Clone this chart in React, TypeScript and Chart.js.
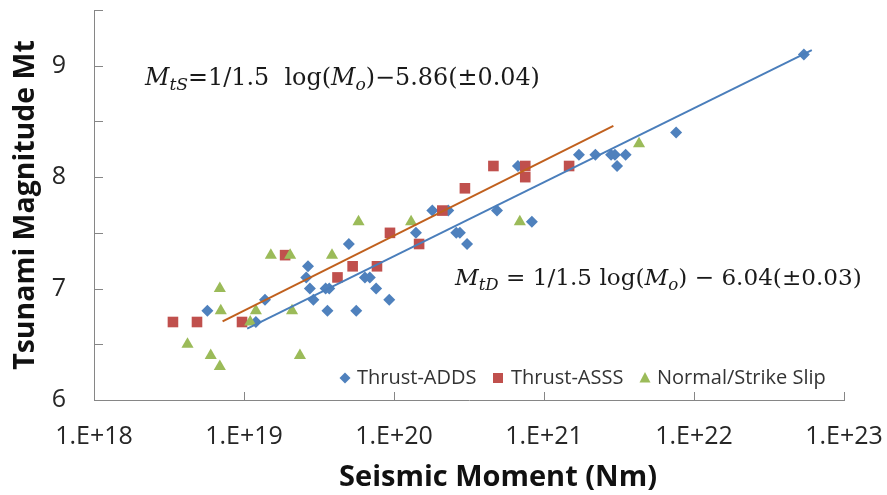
import React, { useEffect, useRef } from 'react';
import { Chart, registerables } from 'chart.js';

Chart.register(...registerables);

// ---- Data ----
const seriesNames = ['Thrust-ADDS', 'Thrust-ASSS', 'Normal/Strike Slip'];
const xTitle = 'Seismic Moment (Nm)';
const yTitle = 'Tsunami Magnitude Mt';

const addsMoment = [
  5.7e18, 1.38e19, 1.2e19, 5.0e19, 2.67e19, 2.6e19, 2.75e19, 2.9e19, 3.5e19, 3.7e19,
  3.6e19, 5.6e19, 6.4e19, 6.9e19, 7.6e19, 9.3e19, 1.8e20, 2.3e20, 1.4e20, 2.6e20,
  2.75e20, 3.07e20, 4.86e20, 6.7e20, 8.3e20, 1.71e21, 2.2e21, 2.8e21, 2.97e21, 3.07e21,
  3.5e21, 7.6e21, 5.4e22,
];
const addsMt = [
  6.8, 6.9, 6.7, 7.4, 7.2, 7.1, 7.0, 6.9, 7.0, 7.0,
  6.8, 6.8, 7.1, 7.1, 7.0, 6.9, 7.7, 7.7, 7.5, 7.5,
  7.5, 7.4, 7.7, 8.1, 7.6, 8.2, 8.2, 8.2, 8.2, 8.1,
  8.2, 8.4, 9.1,
];

const asssMoment = [
  3.36e18, 4.86e18, 9.7e18, 1.88e19, 4.2e19, 5.3e19, 7.7e19, 9.4e19, 1.47e20, 2.1e20,
  2.97e20, 4.6e20, 7.5e20, 7.5e20, 1.47e21,
];
const asssMt = [
  6.7, 6.7, 6.7, 7.3, 7.1, 7.2, 7.2, 7.5, 7.4, 7.7,
  7.9, 8.1, 8.1, 8.0, 8.1,
];

const normalMoment = [
  4.2e18, 6.0e18, 6.9e18, 6.9e18, 7.0e18, 1.1e19, 1.2e19, 1.51e19, 2.03e19, 2.09e19,
  2.36e19, 3.86e19, 5.8e19, 1.3e20, 6.9e20, 4.3e21,
];
const normalMt = [
  6.5, 6.4, 6.3, 7.0, 6.8, 6.7, 6.8, 7.3, 7.3, 6.8,
  6.4, 7.3, 7.6, 7.6, 7.6, 8.3,
];

// trend line end points
const trendSMoment = [7.2e18, 2.9e21];
const trendSMt = [6.705, 8.46];
const trendDMoment = [1.05e19, 6.1e22];
const trendDMt = [6.64, 9.14];

const xTickExponents = [18, 19, 20, 21, 22, 23];
const yTickValues = [6, 6.5, 7, 7.5, 8, 8.5, 9, 9.5];

const COLORS = {
  adds: '#4F81BD',
  asss: '#C0504D',
  normal: '#9BBB59',
  trendS: '#C0601E',
  trendD: '#4A7EBB',
  axis: '#868686',
  text: '#262626',
};

type Seg = { t: string; it?: boolean; sub?: boolean };
const eqS: Seg[] = [
  { t: 'M', it: true }, { t: 'tS', it: true, sub: true }, { t: '=1/1.5  log(' },
  { t: 'M', it: true }, { t: 'o', it: true, sub: true }, { t: ')\u22125.86(\u00B10.04)' },
];
const eqD: Seg[] = [
  { t: 'M', it: true }, { t: 'tD', it: true, sub: true }, { t: ' = 1/1.5 log(' },
  { t: 'M', it: true }, { t: 'o', it: true, sub: true }, { t: ') \u2212 6.04(\u00B10.03)' },
];

const SERIF = '"DejaVu Serif", "Liberation Serif", serif';

function richWidth(ctx: CanvasRenderingContext2D, segs: Seg[], size: number) {
  let w = 0;
  for (const s of segs) {
    const fs = s.sub ? size * 0.72 : size;
    ctx.font = `${s.it ? 'italic ' : ''}${fs}px ${SERIF}`;
    w += ctx.measureText(s.t).width;
  }
  return w;
}

function drawRich(ctx: CanvasRenderingContext2D, x: number, y: number, segs: Seg[], targetW: number) {
  const size = 20 * targetW / richWidth(ctx, segs, 20);
  let cx = x;
  ctx.textBaseline = 'alphabetic';
  ctx.textAlign = 'left';
  for (const s of segs) {
    const fs = s.sub ? size * 0.72 : size;
    ctx.font = `${s.it ? 'italic ' : ''}${fs}px ${SERIF}`;
    ctx.fillText(s.t, cx, y + (s.sub ? size * 0.22 : 0));
    cx += ctx.measureText(s.t).width;
  }
}

const decorPlugin = {
  id: 'decor',
  afterDraw(chart: any) {
    const { ctx, chartArea, scales } = chart;
    const xs = scales.x;
    const ys = scales.y;
    ctx.save();
    // inside tick marks
    ctx.strokeStyle = COLORS.axis;
    ctx.lineWidth = 1;
    ctx.beginPath();
    for (const v of yTickValues) {
      const py = Math.round(ys.getPixelForValue(v)) + 0.5;
      ctx.moveTo(chartArea.left, py);
      ctx.lineTo(chartArea.left + 9, py);
    }
    for (const e of xTickExponents) {
      const px = Math.round(xs.getPixelForValue(Math.pow(10, e))) + 0.5;
      ctx.moveTo(px, chartArea.bottom);
      ctx.lineTo(px, chartArea.bottom - 8);
    }
    ctx.stroke();

    // x axis title (offset to the right like the reference)
    ctx.fillStyle = '#111';
    ctx.font = 'bold 29px "Open Sans"';
    ctx.textAlign = 'center';
    ctx.textBaseline = 'middle';
    ctx.fillText(xTitle, 498, 478);

    // equations
    ctx.fillStyle = '#1a1a1a';
    drawRich(ctx, 145, 85, eqS, 395);
    drawRich(ctx, 455, 285, eqD, 407);

    // legend
    const ly = 378;
    ctx.font = '20px "Open Sans"';
    ctx.textBaseline = 'middle';
    ctx.textAlign = 'left';
    ctx.fillStyle = COLORS.adds;
    ctx.beginPath();
    ctx.moveTo(345, ly - 5.5); ctx.lineTo(350.5, ly); ctx.lineTo(345, ly + 5.5); ctx.lineTo(339.5, ly);
    ctx.closePath(); ctx.fill();
    ctx.fillStyle = COLORS.asss;
    ctx.fillRect(493, ly - 5, 10, 10);
    ctx.fillStyle = COLORS.normal;
    ctx.beginPath();
    ctx.moveTo(645, ly - 6); ctx.lineTo(650.5, ly + 4.5); ctx.lineTo(639.5, ly + 4.5);
    ctx.closePath(); ctx.fill();
    ctx.fillStyle = '#333';
    ctx.fillText(seriesNames[0], 357, ly);
    ctx.fillText(seriesNames[1], 511, ly);
    ctx.fillText(seriesNames[2], 657, ly);
    ctx.restore();
  },
};

function pts(xs: number[], ys: number[]) {
  return xs.map((x, i) => ({ x, y: ys[i] }));
}

export default function App() {
  const ref = useRef<HTMLCanvasElement>(null);
  useEffect(() => {
    const canvas = ref.current!;
    const chart = new Chart(canvas, {
      type: 'scatter',
      data: {
        datasets: [
          {
            type: 'line', label: 'trendS', data: pts(trendSMoment, trendSMt),
            borderColor: COLORS.trendS, borderWidth: 2, pointRadius: 0, fill: false, order: 0,
          } as any,
          {
            type: 'line', label: 'trendD', data: pts(trendDMoment, trendDMt),
            borderColor: COLORS.trendD, borderWidth: 2, pointRadius: 0, fill: false, order: 0,
          } as any,
          {
            label: seriesNames[2], data: pts(normalMoment, normalMt), pointStyle: 'triangle',
            pointRadius: 7, backgroundColor: COLORS.normal, borderColor: COLORS.normal, borderWidth: 0, order: 1,
          },
          {
            label: seriesNames[1], data: pts(asssMoment, asssMt), pointStyle: 'rect',
            pointRadius: 7.5, backgroundColor: COLORS.asss, borderColor: COLORS.asss, borderWidth: 0, order: 2,
          },
          {
            label: seriesNames[0], data: pts(addsMoment, addsMt), pointStyle: 'rectRot',
            pointRadius: 6, backgroundColor: COLORS.adds, borderColor: COLORS.adds, borderWidth: 0, order: 3,
          },
        ],
      },
      options: {
        responsive: false,
        maintainAspectRatio: false,
        animation: false,
        layout: { padding: { top: 10, right: 43, left: 0, bottom: 0 } },
        plugins: { legend: { display: false }, tooltip: { enabled: false } },
        font: { family: '"Open Sans"' },
        scales: {
          x: {
            type: 'logarithmic',
            min: 1e18,
            max: 1e23,
            afterBuildTicks: (s: any) => {
              s.ticks = xTickExponents.map((e) => ({ value: Math.pow(10, e) }));
            },
            ticks: {
              callback: (v: any) => '1.E+' + Math.round(Math.log10(Number(v))),
              font: { size: 25, family: '"Open Sans"' },
              color: COLORS.text,
              padding: 22,
              maxRotation: 0,
              autoSkip: false,
            },
            grid: { display: false, drawTicks: false },
            border: { display: true, color: COLORS.axis, width: 1 },
            title: { display: false, text: xTitle },
            afterFit: (s: any) => {
              s.height = 95;
              s.paddingLeft = 0;
              s.paddingRight = 0;
            },
          } as any,
          y: {
            type: 'linear',
            min: 6,
            max: 9.5,
            afterBuildTicks: (s: any) => {
              s.ticks = yTickValues.map((v) => ({ value: v }));
            },
            ticks: {
              callback: (v: any) => (Number.isInteger(Number(v)) ? String(v) : ''),
              font: { size: 25, family: '"Open Sans"' },
              color: COLORS.text,
              padding: 28,
              autoSkip: false,
            },
            grid: { display: false, drawTicks: false },
            border: { display: true, color: COLORS.axis, width: 1 },
            title: {
              display: true, text: yTitle,
              font: { size: 28.5, weight: 'bold', family: '"Open Sans"' }, color: '#111',
              padding: { top: 9, bottom: 0 },
            },
            afterFit: (s: any) => {
              s.width = 94;
              s.paddingTop = 0;
              s.paddingBottom = 0;
            },
          } as any,
        },
      },
      plugins: [decorPlugin],
    });
    return () => chart.destroy();
  }, []);
  return (
    <div style={{ position: 'fixed', left: 0, top: 0, width: 887, height: 495, background: '#fff' }}>
      <canvas ref={ref} width={887} height={495} style={{ display: 'block' }} />
    </div>
  );
}
